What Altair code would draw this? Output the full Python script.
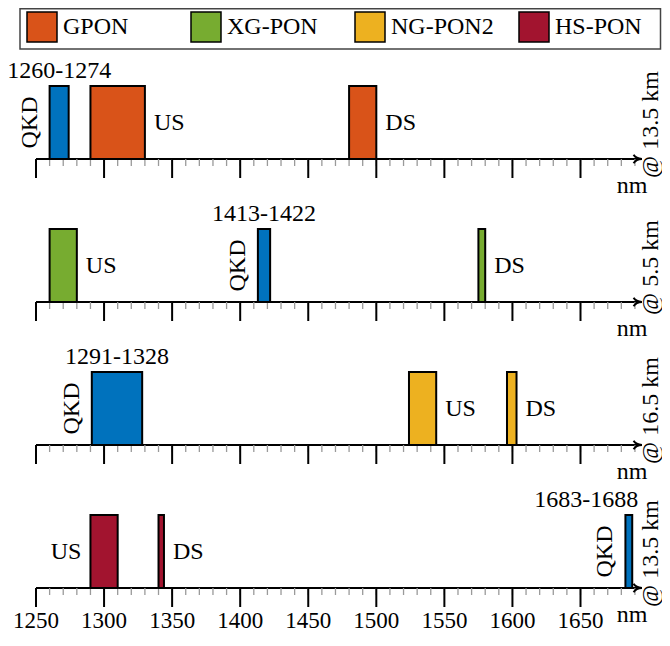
import altair as alt
import pandas as pd

# ---------------- data ----------------
techs = ["GPON", "XG-PON", "NG-PON2", "HS-PON"]
distances = ["@ 13.5 km", "@ 5.5 km", "@ 16.5 km", "@ 13.5 km"]
tech_colors = ["#D95319", "#77AC30", "#EDB120", "#A2142F"]
qkd_color = "#0072BD"

band_row = [0, 0, 0, 1, 1, 1, 2, 2, 2, 3, 3, 3]
band_name = ["QKD", "US", "DS", "US", "QKD", "DS", "QKD", "US", "DS", "US", "DS", "QKD"]
band_start = [1260, 1290, 1480, 1260, 1413, 1575, 1291, 1524, 1596, 1290, 1340, 1683]
band_end = [1274, 1330, 1500, 1280, 1422, 1580, 1328, 1544, 1603, 1310, 1344, 1688]
# side of the US/DS label, anchoring of QKD range label
band_side = ["", "right", "right", "right", "", "right", "", "right", "right", "left", "right", ""]
band_anchor = ["center", "", "", "", "center", "", "center", "", "", "", "", "right"]

major_ticks = [1250, 1300, 1350, 1400, 1450, 1500, 1550, 1600, 1650]
minor_ticks = [1250 + 10 * i for i in range(45)]
axis_start = 1250
axis_end = 1695

FONT = "Liberation Serif"

# ---------------- tables ----------------
bands = pd.DataFrame({
    "row": band_row, "name": band_name, "start": band_start, "end": band_end,
    "side": band_side, "anchor": band_anchor,
})
bands["kind"] = [("QKD" if n == "QKD" else techs[r]) for n, r in zip(band_name, band_row)]
bands["range"] = [f"{s}-{e}" for s, e in zip(band_start, band_end)]
bands["mid"] = [(s + e) / 2 for s, e in zip(band_start, band_end)]

rows = pd.DataFrame({"row": list(range(4)), "dist": distances,
                     "x0": [axis_start] * 4, "x1": [axis_end] * 4})
minor = pd.DataFrame([{"row": r, "t": t} for r in range(4) for t in minor_ticks])
major = pd.DataFrame([{"row": r, "t": t} for r in range(4) for t in major_ticks])
major_lab = pd.DataFrame({"row": [3] * len(major_ticks), "t": major_ticks,
                          "lab": [str(t) for t in major_ticks]})
legend = pd.DataFrame({"idx": list(range(4)), "tech": techs})
one = pd.DataFrame({"a": [0]})

XS = alt.Scale(domain=[1250, 1650], range=[28, 572.5], nice=False, zero=False)
YS = alt.Scale(domain=[0, 3], range=[151, 580], nice=False, zero=False)
color_scale = alt.Scale(domain=techs + ["QKD"], range=tech_colors + [qkd_color])

def X(f):
    return alt.X(f, scale=XS, axis=None)

def Y(f):
    return alt.Y(f, scale=YS, axis=None)

# ---------------- legend ----------------
LS = alt.Scale(domain=[0, 3], range=[19, 511], nice=False, zero=False)
box = alt.Chart(one).mark_rect(fill="white", stroke="#444", strokeWidth=1.5).encode(
    x=alt.value(12), x2=alt.value(652.5), y=alt.value(0.75), y2=alt.value(41))
swatch = alt.Chart(legend).mark_rect(stroke="black", strokeWidth=1.5, x2Offset=30).encode(
    x=alt.X("idx:Q", scale=LS, axis=None), x2="idx:Q",
    y=alt.value(4), y2=alt.value(34),
    fill=alt.Fill("tech:N", scale=color_scale, legend=None))
leg_text = alt.Chart(legend).mark_text(
    align="left", baseline="middle", xOffset=36, font=FONT, fontSize=24, color="black").encode(
    x=alt.X("idx:Q", scale=LS, axis=None), y=alt.value(19), text="tech:N")

# ---------------- axes ----------------
axis_line = alt.Chart(rows).mark_rule(color="black", strokeWidth=2).encode(
    x=X("x0:Q"), x2="x1:Q", y=Y("row:Q"))
arrow = alt.Chart(rows).mark_point(
    shape="M -1 -1 C -0.6 -0.35 0.2 -0.05 1 0 C 0.2 0.05 -0.6 0.35 -1 1",
    filled=False, stroke="black", strokeWidth=2, size=70, xOffset=-4, opacity=1).encode(
    x=X("x1:Q"), y=Y("row:Q"))
minor_r = alt.Chart(minor).mark_rule(color="#9a9a9a", strokeWidth=1.3, y2Offset=7).encode(
    x=X("t:Q"), y=Y("row:Q"), y2="row:Q")
major_r = alt.Chart(major).mark_rule(color="black", strokeWidth=2, y2Offset=19).encode(
    x=X("t:Q"), y=Y("row:Q"), y2="row:Q")
tick_lab = alt.Chart(major_lab).mark_text(
    baseline="alphabetic", align="center", yOffset=40, font=FONT, fontSize=23, color="black").encode(
    x=X("t:Q"), y=Y("row:Q"), text="lab:N")
nm_lab = alt.Chart(rows).mark_text(
    baseline="alphabetic", align="center", yOffset=34, font=FONT, fontSize=24, color="black").encode(
    x=alt.value(624), y=Y("row:Q"), text=alt.value("nm"))
dist_lab = alt.Chart(rows).mark_text(
    baseline="middle", align="center", angle=270, yOffset=-34.5, font=FONT, fontSize=24,
    color="black").encode(x=alt.value(643), y=Y("row:Q"), text="dist:N")

# ---------------- bands ----------------
bars = alt.Chart(bands).mark_rect(stroke="black", strokeWidth=2, y2Offset=-73).encode(
    x=X("start:Q"), x2="end:Q", y=Y("row:Q"), y2="row:Q",
    fill=alt.Fill("kind:N", scale=color_scale, legend=None))

side_r = alt.Chart(bands).transform_filter("datum.side == 'right'").mark_text(
    align="left", baseline="middle", xOffset=9, yOffset=-36.5, font=FONT, fontSize=24,
    color="black").encode(x=X("end:Q"), y=Y("row:Q"), text="name:N")
side_l = alt.Chart(bands).transform_filter("datum.side == 'left'").mark_text(
    align="right", baseline="middle", xOffset=-9, yOffset=-36.5, font=FONT, fontSize=24,
    color="black").encode(x=X("start:Q"), y=Y("row:Q"), text="name:N")
qkd_lab = alt.Chart(bands).transform_filter("datum.name == 'QKD'").mark_text(
    align="center", baseline="alphabetic", angle=270, xOffset=-13, yOffset=-36.5,
    font=FONT, fontSize=24, color="black").encode(
    x=X("start:Q"), y=Y("row:Q"), text="name:N")
rng_c = alt.Chart(bands).transform_filter("datum.anchor == 'center'").mark_text(
    align="center", baseline="alphabetic", yOffset=-81, font=FONT, fontSize=24,
    color="black").encode(x=X("mid:Q"), y=Y("row:Q"), text="range:N")
rng_r = alt.Chart(bands).transform_filter("datum.anchor == 'right'").mark_text(
    align="right", baseline="alphabetic", xOffset=6, yOffset=-81, font=FONT, fontSize=24,
    color="black").encode(x=X("end:Q"), y=Y("row:Q"), text="range:N")

chart = alt.layer(
    box, swatch, leg_text,
    axis_line, minor_r, major_r, arrow, tick_lab, nm_lab, dist_lab,
    bars, side_r, side_l, qkd_lab, rng_c, rng_r,
).resolve_scale(x="independent", fill="shared").properties(
    width=654, height=626, padding=0, autosize="none"
).configure_view(stroke=None)

chart.save("out.html", embed_options={"renderer": "svg", "actions": False})
